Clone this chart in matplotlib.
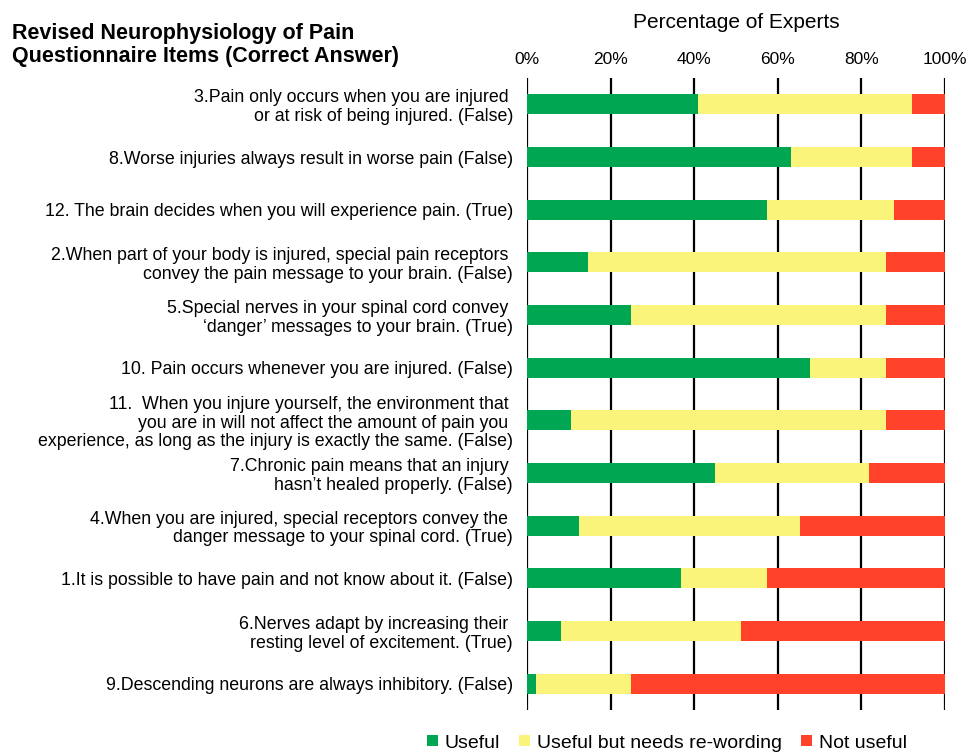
import matplotlib
matplotlib.use("Agg")
import matplotlib.pyplot as plt
import numpy as np

items = [
    "3.Pain only occurs when you are injured \nor at risk of being injured. (False)",
    "8.Worse injuries always result in worse pain (False)",
    "12. The brain decides when you will experience pain. (True)",
    "2.When part of your body is injured, special pain receptors \nconvey the pain message to your brain. (False)",
    "5.Special nerves in your spinal cord convey \n\u2018danger\u2019 messages to your brain. (True)",
    "10. Pain occurs whenever you are injured. (False)",
    "11.  When you injure yourself, the environment that \nyou are in will not affect the amount of pain you \nexperience, as long as the injury is exactly the same. (False)",
    "7.Chronic pain means that an injury \nhasn\u2019t healed properly. (False)",
    "4.When you are injured, special receptors convey the \ndanger message to your spinal cord. (True)",
    "1.It is possible to have pain and not know about it. (False)",
    "6.Nerves adapt by increasing their \nresting level of excitement. (True)",
    "9.Descending neurons are always inhibitory. (False)",
]
useful = [40.9, 63.2, 57.4, 14.5, 24.8, 67.6, 10.5, 44.9, 12.4, 36.9, 8.2, 2.1]
reword = [51.3, 29.0, 30.3, 71.5, 61.2, 18.4, 75.5, 37.0, 53.0, 20.5, 43.0, 22.7]
not_useful = [7.8, 7.8, 12.3, 14.0, 14.0, 14.0, 14.0, 18.1, 34.6, 42.6, 48.8, 75.2]
series_names = ["Useful", "Useful but needs re-wording", "Not useful"]
colors = ["#00a652", "#fbf47b", "#ff4229"]
xticks = [0, 20, 40, 60, 80, 100]
xticklabels = ["0%", "20%", "40%", "60%", "80%", "100%"]

plt.rcParams['font.family'] = ['Liberation Sans', 'DejaVu Sans']

fig = plt.figure(figsize=(9.66, 7.53), dpi=100)
ax = fig.add_axes([527/966, 1 - 710/753, (945-527)/966, (710-78)/753])

y = np.arange(len(items))
left = np.zeros(len(items))
for vals, name, c in zip([useful, reword, not_useful], series_names, colors):
    ax.barh(y, vals, left=left, height=0.38, color=c, label=name, zorder=3)
    left = left + np.array(vals)

ax.set_ylim(len(items) - 0.5, -0.5)
ax.set_xlim(0, 100)
ax.set_yticks(y)
ax.set_yticklabels(items, fontsize=12.8, linespacing=1.13)
ax.set_xticks(xticks)
ax.set_xticklabels(xticklabels, fontsize=12.5)
ax.xaxis.tick_top()
ax.xaxis.set_label_position('top')
ax.set_xlabel("Percentage of Experts", fontsize=15, labelpad=17)
ax.tick_params(axis='both', length=0)
ax.tick_params(axis='y', pad=10)
ax.tick_params(axis='x', pad=8)
for s in ax.spines.values():
    s.set_visible(False)
ax.grid(axis='x', color='black', linewidth=1.6, zorder=0)
ax.set_axisbelow(True)

fig.text(12/966, 1 - 45/753, "Revised Neurophysiology of Pain\nQuestionnaire Items (Correct Answer)",
         fontsize=15.5, fontweight='bold', ha='left', va='center', linespacing=1.12)

leg = fig.legend(loc='center', bbox_to_anchor=(667/966, 1 - 743/753), ncol=3, frameon=False,
                 fontsize=14, handlelength=0.55, handleheight=0.55, handletextpad=0.35,
                 columnspacing=1.0, borderaxespad=0)

fig.savefig("out.png", dpi=100)
